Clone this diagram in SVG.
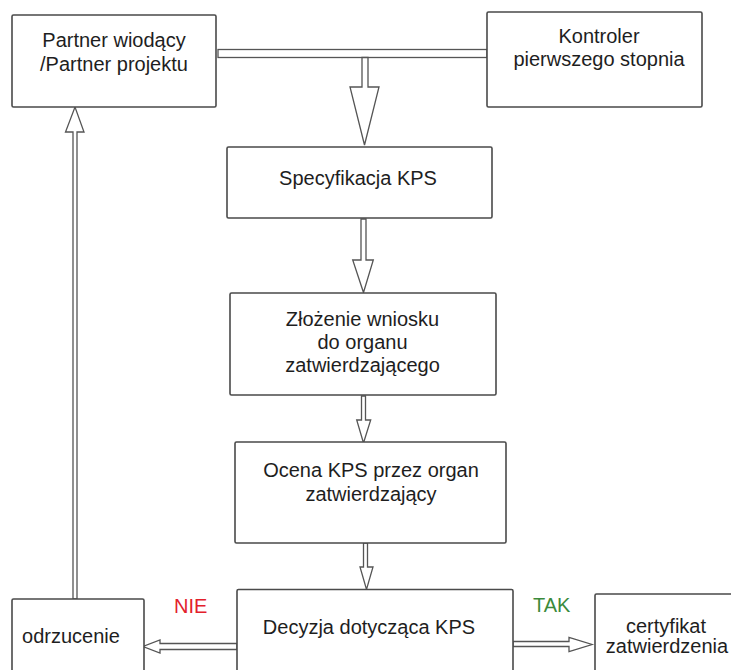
<svg xmlns="http://www.w3.org/2000/svg" width="731" height="670" viewBox="0 0 731 670">
<style>
.box{fill:#fff;stroke:#4a4a4a;stroke-width:1.6}
.t{font-family:"Liberation Sans",Arial,sans-serif;font-size:20px;fill:#1e1e1e;text-anchor:middle}
.lbl{font-family:"Liberation Sans",Arial,sans-serif;font-size:20px}
.arr{fill:#fff;stroke:#555;stroke-width:1.3;stroke-linejoin:miter}
</style>
<rect width="731" height="670" fill="#fff"/>
<g id="connectors">
<rect class="arr" x="218" y="49.5" width="269" height="8"/>
<path class="arr" d="M362,57.5 V87 H350 L364.5,145 L379,87 H368 V57.5 Z"/>
<path class="arr" d="M361,219 V260 H352.7 L363.5,292.5 L373.3,260 H366 V219 Z"/>
<path class="arr" d="M361.5,396 V420 H356.7 L363.5,443 L370.7,420 H365.5 V396 Z"/>
<path class="arr" d="M363.5,543 V567 H360 L366.5,589.5 L373,567 H367.5 V543 Z"/>
<path class="arr" d="M237,643.5 H160 V640 L143,646.5 L160,653 V649.5 H237 Z"/>
<path class="arr" d="M513,641.5 H569 V637.5 L592,644.5 L569,651.5 V646.5 H513 Z"/>
<path class="arr" d="M73,599 V132 H65.5 L75,107 L84,132 H77 V599 Z"/>
</g>
<g id="partner">
<rect class="box" x="12" y="15" width="204" height="92" rx="1.5"/>
<text class="t" x="114" y="47">Partner wiodący</text>
<text class="t" x="114" y="71">/Partner projektu</text>
</g>
<g id="kontroler">
<rect class="box" x="487" y="12" width="215" height="95" rx="1.5"/>
<text class="t" x="599" y="43">Kontroler</text>
<text class="t" x="599" y="66">pierwszego stopnia</text>
</g>
<g id="specyfikacja">
<rect class="box" x="227" y="147" width="265" height="71" rx="1.5"/>
<text class="t" x="358" y="185">Specyfikacja KPS</text>
</g>
<g id="zlozenie">
<rect class="box" x="230" y="293" width="266" height="102" rx="1.5"/>
<text class="t" x="362.5" y="326">Złożenie wniosku</text>
<text class="t" x="362.5" y="349">do organu</text>
<text class="t" x="362.5" y="372">zatwierdzającego</text>
</g>
<g id="ocena">
<rect class="box" x="235" y="442" width="271" height="101" rx="1.5"/>
<text class="t" x="371" y="477">Ocena KPS przez organ</text>
<text class="t" x="371" y="501">zatwierdzający</text>
</g>
<g id="decyzja">
<rect class="box" x="237" y="589.5" width="276" height="100" rx="1.5"/>
<text class="t" x="369" y="634">Decyzja dotycząca KPS</text>
</g>
<g id="odrzucenie">
<rect class="box" x="12" y="599" width="132" height="90" rx="1.5"/>
<text class="t" x="71" y="643">odrzucenie</text>
</g>
<g id="certyfikat">
<rect class="box" x="595" y="594" width="150" height="95" rx="1.5"/>
<text class="t" x="666" y="633">certyfikat</text>
<text class="t" x="667" y="653">zatwierdzenia</text>
</g>
<g id="labels">
<text class="lbl" x="174" y="612.5" fill="#e3202b">NIE</text>
<text class="lbl" x="533" y="612" fill="#3b8a3b">TAK</text>
</g>
</svg>
